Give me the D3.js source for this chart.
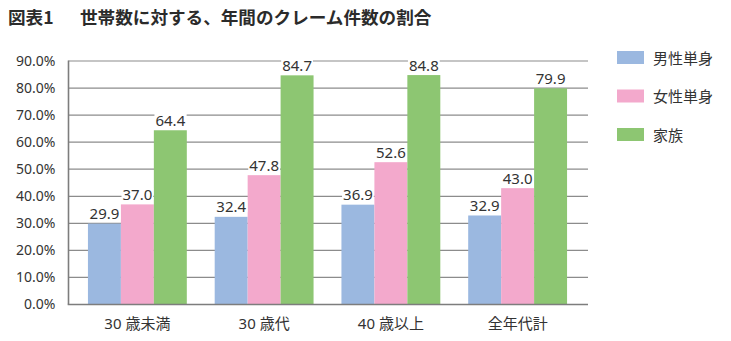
<!DOCTYPE html>
<html>
<head>
<meta charset="utf-8">
<script src="https://cdn.jsdelivr.net/npm/d3@7"></script>
<style>
  html, body { margin: 0; padding: 0; background: #fff; }
  svg { display: block; }
</style>
</head>
<body>
<svg id="chart" width="731" height="341"></svg>
<script>
// Claims per household, by age group (%)
const categories = ["30 歳未満", "30 歳代", "40 歳以上", "全年代計"];
const seriesNames = ["男性単身", "女性単身", "家族"];
const maleSingle   = [29.9, 32.4, 36.9, 32.9];
const femaleSingle = [37.0, 47.8, 52.6, 43.0];
const family       = [64.4, 84.7, 84.8, 79.9];
const yTicks = [0, 10, 20, 30, 40, 50, 60, 70, 80, 90];
const titleNumber = "図表1";
const titleMain = "世帯数に対する、年間のクレーム件数の割合";

const seriesValues = [maleSingle, femaleSingle, family];
const colors = ["#9bb8e0", "#f3a9cc", "#8dc672"];

const svg = d3.select("#chart");
const font = "'Noto Sans', 'Noto Sans CJK JP', sans-serif";
const textColor = "#333";

// plot frame
const plotLeft = 68.5, plotRight = 588, plotTop = 61, plotBottom = 304.5;

const y = d3.scaleLinear().domain([0, 90]).range([plotBottom, plotTop]);
const x0 = d3.scaleBand().domain(categories).range([74, 581])
  .paddingInner(0.22).paddingOuter(0.11);
const x1 = d3.scaleBand().domain(d3.range(seriesNames.length))
  .range([0, x0.bandwidth()]);

// title: figure number, then the heading
const title = svg.append("g")
  .attr("font-family", "'Noto Sans CJK JP', sans-serif")
  .attr("font-weight", 700)
  .attr("font-size", 17.6)
  .attr("fill", "#2b2b2b");
title.append("text").attr("x", 8).attr("y", 23.5).text(titleNumber);
title.append("text").attr("x", 80).attr("y", 23.5).text(titleMain);

// horizontal gridlines
svg.append("g")
  .selectAll("line")
  .data(yTicks.filter(d => d > 0))
  .join("line")
  .attr("x1", plotLeft).attr("x2", plotRight)
  .attr("y1", d => y(d)).attr("y2", d => y(d))
  .attr("stroke", "#8c8c8c").attr("stroke-width", 1.2);

// y axis tick labels
const yAxis = d3.axisLeft(y).tickValues(yTicks)
  .tickFormat(d => d.toFixed(1) + "%").tickSize(0).tickPadding(13);
const gy = svg.append("g").attr("transform", `translate(${plotLeft},0)`).call(yAxis);
gy.select(".domain").remove();
gy.selectAll("text")
  .attr("font-family", font).attr("font-size", 14)
  .attr("fill", textColor);

// bars
const groups = svg.append("g")
  .selectAll("g")
  .data(categories)
  .join("g")
  .attr("transform", d => `translate(${x0(d)},0)`);

groups.selectAll("rect")
  .data((c, ci) => seriesValues.map((vals, si) => ({ si, v: vals[ci] })))
  .join("rect")
  .attr("x", d => x1(d.si))
  .attr("width", x1.bandwidth())
  .attr("y", d => y(d.v))
  .attr("height", d => plotBottom - y(d.v))
  .attr("fill", d => colors[d.si]);

// value labels on a white backing that breaks the gridlines
const labels = groups.selectAll("g.lbl")
  .data((c, ci) => seriesValues.map((vals, si) => ({ si, v: vals[ci] })))
  .join("g").attr("class", "lbl")
  .attr("transform", d => `translate(${x1(d.si) + x1.bandwidth() / 2},${y(d.v) - 4.5})`);

labels.append("rect")
  .attr("fill", "#fff");
labels.append("text")
  .attr("text-anchor", "middle")
  .attr("font-family", font).attr("font-size", 15)
  .attr("fill", textColor)
  .text(d => d.v.toFixed(1));
labels.each(function () {
  const g = d3.select(this);
  const bb = g.select("text").node().getBBox();
  g.select("rect")
    .attr("x", bb.x - 1).attr("width", bb.width + 2)
    .attr("y", -12).attr("height", 12);
});

// axis lines
svg.append("line")
  .attr("x1", plotLeft).attr("x2", plotLeft).attr("y1", plotTop - 0.5).attr("y2", plotBottom)
  .attr("stroke", "#7d7d7d").attr("stroke-width", 1.6);
svg.append("line")
  .attr("x1", plotLeft - 0.8).attr("x2", plotRight).attr("y1", plotBottom).attr("y2", plotBottom)
  .attr("stroke", "#7d7d7d").attr("stroke-width", 1.6);

// category labels
const xAxis = d3.axisBottom(x0).tickSize(0).tickPadding(14);
const gx = svg.append("g").attr("transform", `translate(0,${plotBottom})`).call(xAxis);
gx.select(".domain").remove();
gx.selectAll("text")
  .attr("font-family", font).attr("font-size", 15)
  .attr("fill", textColor);

// legend
const legend = svg.append("g")
  .selectAll("g")
  .data(seriesNames)
  .join("g")
  .attr("transform", (d, i) => `translate(617,${51 + i * 38.5})`);
legend.append("rect")
  .attr("width", 27).attr("height", 13)
  .attr("fill", (d, i) => colors[i]);
legend.append("text")
  .attr("x", 36).attr("y", 12.5)
  .attr("font-family", "'Noto Sans CJK JP', sans-serif")
  .attr("font-size", 15)
  .attr("fill", textColor)
  .text(d => d);
</script>
</body>
</html>
